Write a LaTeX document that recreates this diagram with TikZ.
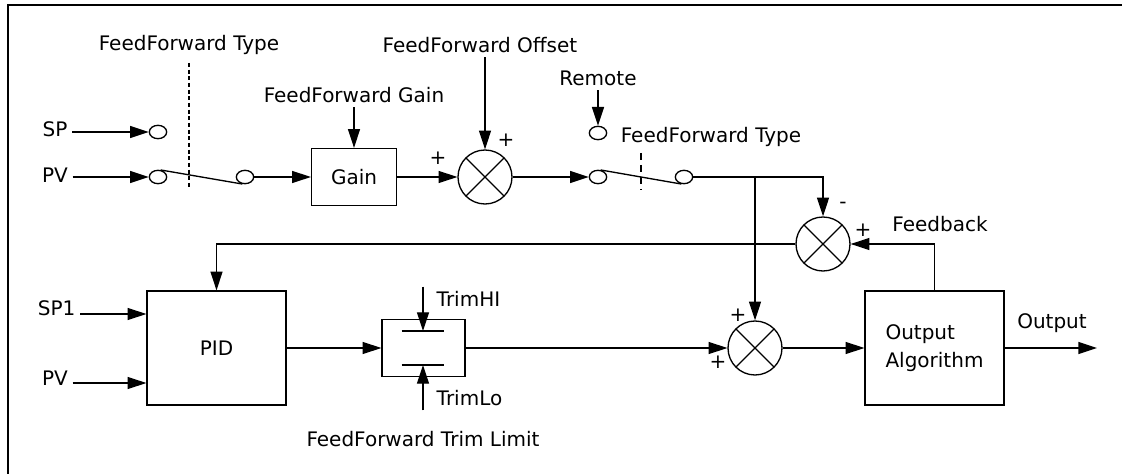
\documentclass[tikz,border=0pt]{standalone}
\usepackage{fontspec}
\setmainfont{DejaVu Sans}
\usetikzlibrary{arrows.meta, positioning, shapes.geometric, calc}

\begin{document}
\begin{tikzpicture}[x=0.75pt, y=-0.75pt,
  every node/.style={font=\fontsize{15}{17}\selectfont},
  blk/.style={draw, line width=1pt, inner sep=0pt},
  sumj/.style={circle, draw, line width=1pt, minimum size=40.5pt, inner sep=0pt,
               path picture={\draw[line width=1pt]
                 (path picture bounding box.north west) -- (path picture bounding box.south east)
                 (path picture bounding box.north east) -- (path picture bounding box.south west);}},
  contact/.style={ellipse, draw, line width=1pt, minimum width=13pt,
                  minimum height=10pt, inner sep=0pt},
  sig/.style={line width=1pt, -{Triangle[length=14pt, width=9pt]}},
  wire/.style={line width=1pt}
]
  \useasboundingbox (0,0) rectangle (1122,474);
  % frame
  \draw[line width=1.5pt] (1122,5) -- (8,5) -- (8,474);

  % feedforward path: source select
  \node (spL) at (55,129) {SP};
  \node (pvL) at (55,175) {PV};
  \node[contact] (c1) at (158,132) {};
  \node[contact] (c2) at (158,177) {};
  \node[contact] (c3) at (245,177) {};
  \draw[sig] (spL.east |- c1) -- (c1);
  \draw[sig] (pvL.east |- c2) -- (c2);
  \draw[wire] (c2.70) -- (c3.250);
  \node (fft1) at (189,45) {FeedForward Type};
  \draw[line width=0.8pt, dash pattern=on 3pt off 2pt] (189,63) -- (189,188);

  % gain and offset
  \node[blk, minimum width=63.75pt, minimum height=42.75pt] (gain) at (354,177) {Gain};
  \node (ffg) at (354,95) {FeedForward Gain};
  \draw[sig] (c3) -- (gain);
  \draw[sig] (ffg) -- (gain);
  \node[sumj] (s1) at (485,177) {};
  \node (ffo) at (480,45) {FeedForward Offset};
  \draw[sig] (ffo.south -| s1.north) -- (s1.north);
  \draw[sig] (gain) -- (s1);
  \node at (438,158) {+};
  \node at (506,140) {+};

  % remote select
  \node[contact] (c4) at (598,133) {};
  \node[contact] (c5) at (598,177) {};
  \node[contact] (c6) at (684,177) {};
  \node (remL) at (598,78) {Remote};
  \draw[sig] (remL) -- (c4);
  \draw[sig] (s1) -- (c5);
  \draw[wire] (c5.70) -- (c6.250);
  \draw[line width=0.8pt, dash pattern=on 5pt off 4pt] (641,153) -- (641,190);
  \node (fft2) at (711,137) {FeedForward Type};

  % feedback summing
  \node[sumj] (s2) at (823,244) {};
  \coordinate (j1) at (755,177);
  \draw[sig] (c6) -- (s2 |- c6) -- (s2);
  \node at (843,205) {-};
  \node at (863,230) {+};
  \node (fbL) at (940,224) {Feedback};

  % PID and trim limit
  \node[blk, minimum width=104.25pt, minimum height=85.5pt] (pid) at (216.5,348) {PID};
  \node[anchor=east] (sp1L) at (80,308) {SP1};
  \node (pv2L) at (55,378) {PV};
  \draw[sig] (sp1L.east |- 0,314) -- (pid.west |- 0,314);
  \draw[sig] (pv2L.east |- 0,383) -- (pid.west |- 0,383);
  \draw[sig] (s2) -| (pid.north);
  \node[blk, minimum width=62.25pt, minimum height=42.75pt] (trim) at (423.5,348) {};
  \draw[sig] (pid) -- (trim);
  \coordinate (hiB) at (423,331);
  \coordinate (loB) at (423,365);
  \draw[wire] ([xshift=-16pt]hiB) -- ([xshift=16pt]hiB);
  \draw[wire] ([xshift=-16pt]loB) -- ([xshift=16pt]loB);
  \node[anchor=west] (trimhi) at (432,299) {TrimHI};
  \node[anchor=west] (trimlo) at (432,398) {TrimLo};
  \draw[sig] (trimhi.north -| hiB) -- (hiB);
  \draw[sig] (trimlo.south -| loB) -- (loB);
  \node (fftl) at (423,439) {FeedForward Trim Limit};

  % output summing and algorithm
  \node[sumj] (s3) at (755,348) {};
  \draw[sig] (j1) -- (s3);
  \draw[sig] (trim) -- (s3);
  \node at (738,315) {+};
  \node at (718,362) {+};
  \node[blk, minimum width=104.25pt, minimum height=85.5pt, align=left,
        font=\fontsize{15}{21}\selectfont] (outalg) at (934.5,348) {Output\\Algorithm};
  \draw[sig] (s3) -- (outalg);
  \draw[sig] (outalg.north) |- (s2);
  \coordinate (outE) at (1097,348);
  \draw[sig] (outalg) -- (outE);
  \node (outL) at (1052,323) {Output};
\end{tikzpicture}
\end{document}
